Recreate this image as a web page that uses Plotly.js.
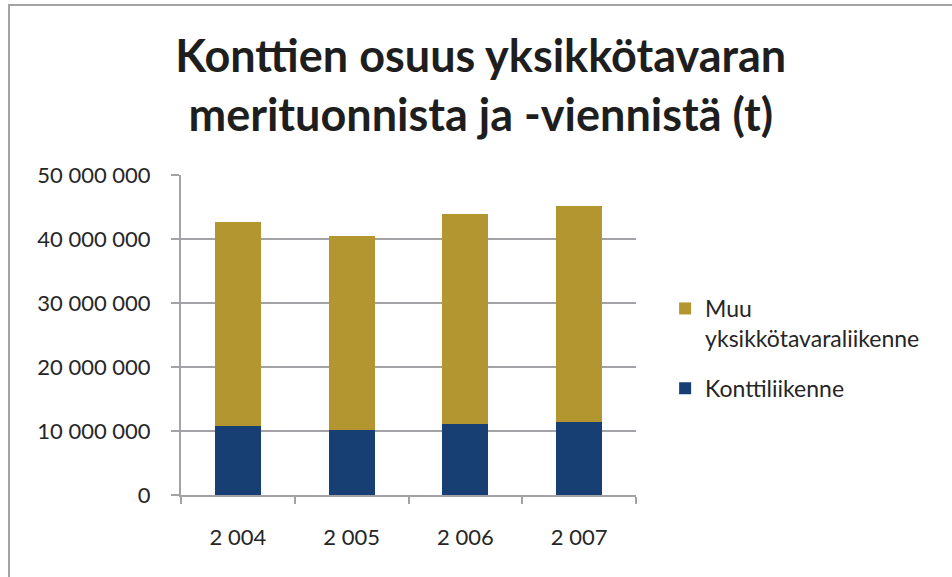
<!DOCTYPE html>
<html>
<head>
<meta charset="utf-8">
<script src="https://cdn.plot.ly/plotly-3.0.1.min.js"></script>
<style>
  html, body { margin: 0; padding: 0; background: #ffffff; overflow: hidden; }
  #chart { width: 952px; height: 577px; }
  #frame { position: absolute; left: 8px; top: 4px; width: 2000px; height: 2000px;
           border-left: 2px solid #a3a3a7; border-top: 2px solid #a3a3a7; pointer-events: none; }
</style>
</head>
<body>
<div id="chart"></div>
<div id="frame"></div>
<script>
// Data (tonnes)
const years = ["2 004", "2 005", "2 006", "2 007"];
const konttiliikenne = [10830000, 10200000, 11140000, 11450000];
const muuYksikko = [31830000, 30270000, 32760000, 33710000];
const seriesNames = ["Konttiliikenne", "Muu<br>yksikkötavaraliikenne"];
const titleText = "Konttien osuus yksikkötavaran<br>merituonnista ja -viennistä (t)";

const FONT = "Lato, 'Open Sans', sans-serif";
const GRID = "#a3a3a7";

const traces = [
  {
    type: "bar", x: years, y: konttiliikenne, name: seriesNames[0],
    legendgroup: "a", legendrank: 2,
    marker: { color: "#173f74", line: { width: 0 } },
    hoverinfo: "none"
  },
  {
    type: "bar", x: years, y: muuYksikko, name: seriesNames[1],
    legendgroup: "b", legendrank: 1,
    marker: { color: "#b39630", line: { width: 0 } },
    hoverinfo: "none"
  }
];

const layout = {
  width: 952, height: 577,
  paper_bgcolor: "#ffffff", plot_bgcolor: "#ffffff",
  margin: { l: 181, r: 316, t: 175, b: 82, pad: 0 },
  barmode: "stack",
  bargap: 0.595,
  separators: ", ",
  font: { family: FONT, color: "#262626", size: 22 },
  title: {
    text: titleText,
    font: { family: FONT, size: 45, color: "#1e1e1e", weight: "bold" },
    xref: "container", x: 0.505, xanchor: "center",
    yref: "container", y: 0.875, yanchor: "top"
  },
  xaxis: {
    type: "category",
    showline: true, linecolor: GRID, linewidth: 2,
    ticks: "outside", tickson: "boundaries", ticklen: 7, tickcolor: GRID, tickwidth: 2,
    showgrid: false,
    tickfont: { family: FONT, size: 22, color: "#262626" },
    ticklabelstandoff: 22
  },
  yaxis: {
    range: [0, 50000000], dtick: 10000000, tick0: 0,
    tickformat: ",d",
    showline: true, linecolor: GRID, linewidth: 2,
    ticks: "outside", ticklen: 8, tickcolor: GRID, tickwidth: 2,
    showgrid: true, gridcolor: GRID, gridwidth: 2,
    zeroline: false,
    tickfont: { family: FONT, size: 22, color: "#262626" },
    ticklabelstandoff: 16
  },
  showlegend: true,
  legend: {
    traceorder: "grouped",
    tracegroupgap: 17,
    valign: "top",
    x: 1.064, xanchor: "left", xref: "paper",
    y: 0.65, yanchor: "top",
    font: { family: FONT, size: 23, color: "#262626" },
    bgcolor: "rgba(0,0,0,0)",
    itemclick: false, itemdoubleclick: false
  }
};

Plotly.newPlot("chart", traces, layout, { displayModeBar: false, staticPlot: true });
</script>
</body>
</html>
